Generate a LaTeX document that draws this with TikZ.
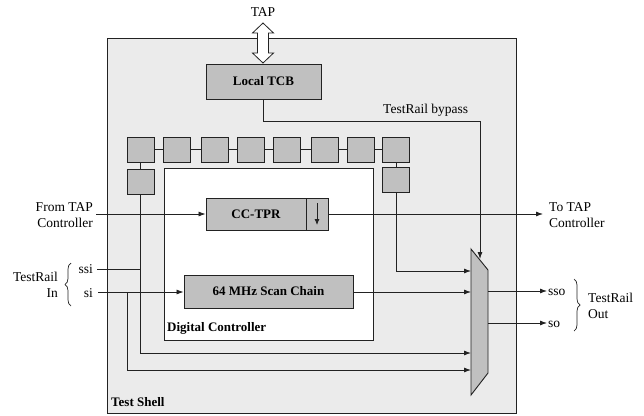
\documentclass[tikz,border=0pt]{standalone}
\usepackage{fontspec}
\setmainfont{Liberation Serif}
\newfontfamily\tms{Liberation Serif}
\usetikzlibrary{arrows.meta,decorations.pathreplacing}
\definecolor{shellgray}{HTML}{EBEBEB}
\definecolor{boxgray}{HTML}{C0C0C0}
\definecolor{linec}{HTML}{222222}
\begin{document}
\begin{tikzpicture}[x=1pt,y=-1pt,
  every node/.style={font=\tms\fontsize{13.5}{16}\selectfont, inner sep=0pt},
  gbox/.style={draw=linec, line width=0.9pt, fill=boxgray, minimum width=#1},
  cell/.style={draw=linec, line width=0.9pt, fill=boxgray, minimum width=27pt, minimum height=25pt},
  bl/.style={font=\tms\fontsize{13}{15}\selectfont\bfseries},
  wire/.style={draw=linec, line width=0.8pt},
  arr/.style={wire, -{Latex[length=7pt,width=5pt]}},
  lbl/.style={align=#1},
  brc/.style={draw=linec, line width=0.7pt, decorate, decoration={brace, amplitude=6pt}}
]
\useasboundingbox (0,0) rectangle (644,415);
% shell
\node[draw=linec, line width=0.9pt, fill=shellgray, minimum width=409pt, minimum height=375pt] (shell) at (311.5,225.5) {};
\node[bl, anchor=west] (shelllbl) at (111,402) {Test Shell};
% TCB
\node[gbox=115pt, minimum height=35pt, bl] (tcb) at (263.5,81.5) {Local TCB};
\node (tap) at (263,12) {TAP};
\draw[draw=linec, line width=0.8pt, fill=white]
  (263,23) -- (273.5,33) -- (268.5,33) -- (268.5,53) -- (273.5,53) -- (263,63)
  -- (252.5,53) -- (257.5,53) -- (257.5,33) -- (252.5,33) -- cycle;
% digital controller
\node[draw=linec, line width=0.9pt, fill=white, minimum width=209pt, minimum height=172pt] (dc) at (268.5,254) {};
\node[bl, anchor=west] (dclbl) at (167,328) {Digital Controller};
% chain
\foreach \i/\x in {1/140.5,2/177,3/214.5,4/251,5/287,6/324.5,7/361,8/396}
  \node[cell] (c\i) at (\x,149.5) {};
\foreach \i/\j in {1/2,2/3,3/4,4/5,5/6,6/7,7/8}
  \draw[wire] (c\i) -- (c\j);
\node[cell] (cl) at (140.5,181.5) {};
\node[cell] (cr) at (396,179.5) {};
\draw[wire] (c1) -- (cl);
\draw[wire] (c8) -- (cr);
% CC-TPR
\node[gbox=100pt, minimum height=32pt, bl] (tpr) at (256,214) {CC-TPR};
\node[gbox=22pt, minimum height=32pt] (tprs) at (317,214) {};
\draw[arr, -{Latex[length=6pt,width=5pt]}] ([yshift=11pt]tprs.center) -- ([yshift=-11pt]tprs.center);
% scan chain
\node[gbox=169pt, minimum height=33pt, bl] (scan) at (268.5,291.5) {64 MHz Scan Chain};
% mux
\coordinate (m1) at (471,249);
\coordinate (m2) at (488,270);
\coordinate (m3) at (488,373);
\coordinate (m4) at (471,395);
\draw[draw=linec, line width=0.9pt, fill=boxgray] (m1) -- (m2) -- (m3) -- (m4) -- cycle;
% From/To TAP
\node[lbl=right, anchor=east] (from) at (93,215) {From TAP\\Controller};
\coordinate (fromw) at (96,214);
\draw[arr] (fromw) -- (tpr.west);
\node[lbl=left, anchor=west] (to) at (549,215) {To TAP\\Controller};
\coordinate (toe) at (543,214);
\draw[arr] (tprs.east) -- (toe);
% bypass
\node[anchor=west] (bp) at (383,110) {TestRail bypass};
\coordinate (bpend) at (480,259);
\draw[arr] (tcb.south) |- (480,121) -- (bpend);
% right chain to mux
\coordinate (mi1) at (471,271);
\draw[arr] (cr.south) |- (mi1);
% inputs
\node[anchor=east] (ssi) at (93,269) {ssi};
\node[anchor=east] (si) at (93,293) {si};
\node[lbl=right, anchor=east] (trin) at (58,285) {TestRail\\In};
\draw[brc] (71,306) -- (71,263);
\coordinate (ssiw) at (97,269);
\coordinate (siw) at (98,292);
\coordinate (mi2) at (471,292);
\coordinate (mi3) at (471,353);
\coordinate (mi4) at (471,370);
\draw[wire] (ssiw) -- (140.5,269);
\draw[arr] (cl.south) |- (mi3);
\draw[arr] (siw) -- (scan.west |- siw);
\draw[arr] (127,292) |- (mi4);
\draw[arr] (scan.east |- mi2) -- (mi2);
% outputs
\coordinate (sso) at (547,291);
\coordinate (so) at (547,323);
\draw[arr] (488,291) -- (sso);
\draw[arr] (488,323) -- (so);
\node[anchor=west] (ssolbl) at (548,292) {sso};
\node[anchor=west] (solbl) at (548,324) {so};
\draw[brc] (574,279) -- (574,331);
\node[lbl=left, anchor=west] (trout) at (588,306) {TestRail\\Out};
\end{tikzpicture}
\end{document}
